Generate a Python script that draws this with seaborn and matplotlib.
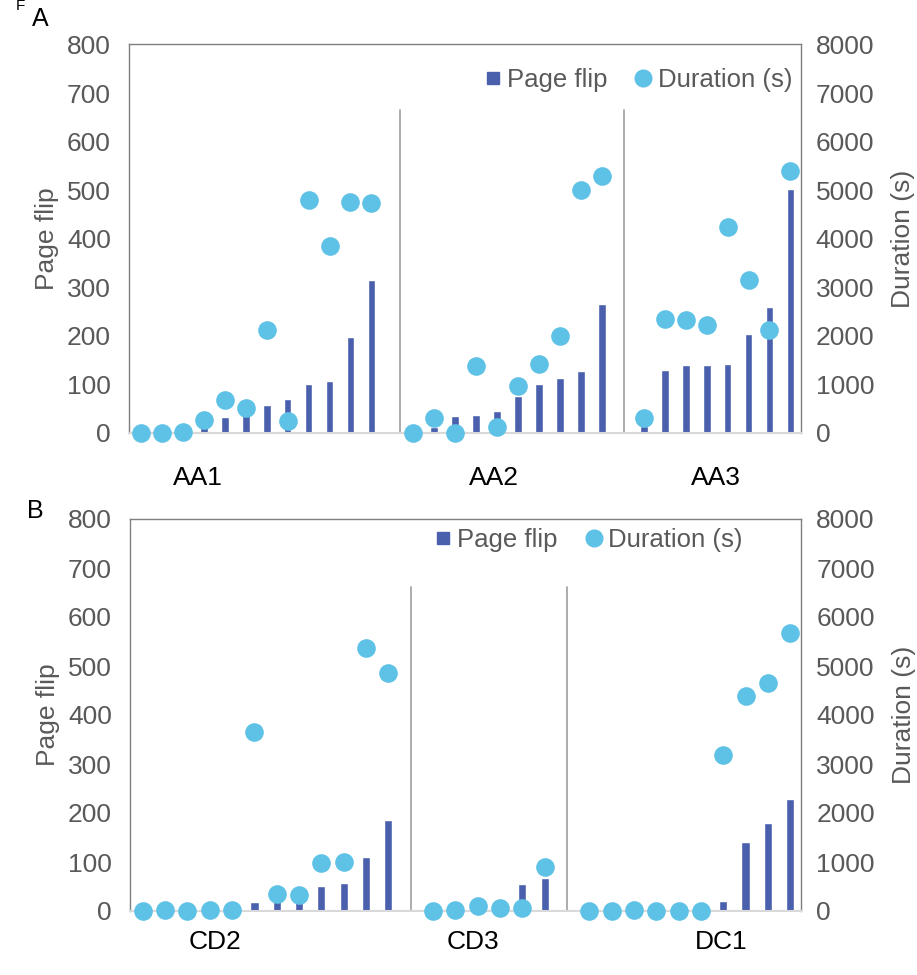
import numpy as np
import pandas as pd
import matplotlib
matplotlib.use("Agg")
import matplotlib.pyplot as plt
import matplotlib.transforms as mtransforms
from matplotlib.lines import Line2D
import seaborn as sns

# ---------------- data ----------------
# Panel A
aa_groups = ["AA1", "AA2", "AA3"]
aa1_flip = [0, 0, 0, 15, 32, 38, 58, 71, 101, 108, 197, 316]
aa1_dur = [0, 0, 30, 274, 685, 507, 2123, 247, 4795, 3849, 4760, 4740]
aa2_flip = [0, 12, 34, 38, 45, 77, 101, 113, 127, 265]
aa2_dur = [0, 315, 0, 1370, 116, 973, 1431, 2000, 5000, 5301]
aa3_flip = [15, 130, 140, 140, 143, 203, 259, 503]
aa3_dur = [315, 2356, 2322, 2226, 4240, 3150, 2123, 5404]

# Panel B
cd_groups = ["CD2", "CD3", "DC1"]
cd2_flip = [0, 0, 0, 0, 0, 18, 22, 18, 52, 58, 111, 186]
cd2_dur = [0, 30, 0, 30, 30, 3660, 347, 320, 973, 1007, 5374, 4850]
cd3_flip = [0, 0, 0, 24, 55, 68]
cd3_dur = [0, 30, 100, 60, 60, 905]
dc1_flip = [0, 0, 0, 0, 0, 0, 21, 140, 179, 229]
dc1_dur = [0, 0, 30, 0, 0, 0, 3177, 4395, 4646, 5680]

flip_ticks = [0, 100, 200, 300, 400, 500, 600, 700, 800]
dur_ticks = [0, 1000, 2000, 3000, 4000, 5000, 6000, 7000, 8000]

BAR_C = "#4A60AC"
DOT_C = "#5EC1E6"
GREY = "#595959"

plt.rcParams["font.family"] = ["Liberation Sans", "DejaVu Sans"]
sns.set_style("white")
plt.rcParams["font.family"] = ["Liberation Sans", "DejaVu Sans"]


def build_frame(groups, flips, durs):
    rows = []
    pos = 0
    seps = []
    spans = []
    for gi, (g, f, d) in enumerate(zip(groups, flips, durs)):
        start = pos
        for fv, dv in zip(f, d):
            rows.append({"group": g, "pos": pos, "flip": fv, "dur": dv})
            pos += 1
        spans.append((start, pos - 1))
        if gi < len(groups) - 1:
            seps.append(pos)
            pos += 1  # empty slot between groups
    return pd.DataFrame(rows), seps, spans, pos


def draw_panel(ax, groups, flips, durs, sep_pos, label_pos, label_y, legend_xy, sep_top):
    df, seps, spans, n = build_frame(groups, flips, durs)
    sns.barplot(data=df, x="pos", y="flip", native_scale=True, color=BAR_C,
                width=0.37, saturation=1, ax=ax, errorbar=None, zorder=2)
    ax.set_xlim(-0.57, n - 0.52)
    ax.set_ylim(0, 800)
    ax.set_yticks(flip_ticks)
    ax.set_xticks([])
    ax.set_xlabel("")
    ax.set_ylabel("Page flip", fontsize=19, color=GREY, labelpad=6)
    ax.tick_params(axis="y", length=0, pad=13, labelsize=19, labelcolor=GREY)
    for s in ["left", "right", "top"]:
        ax.spines[s].set_color("#7f7f7f")
        ax.spines[s].set_linewidth(1.0)
    ax.spines["bottom"].set_color("#d9d9d9")
    ax.spines["bottom"].set_linewidth(1.5)

    for sx in sep_pos:
        ax.axvline(sx, ymin=0, ymax=sep_top, color="#a6a6a6", lw=1.3, zorder=1)

    trans = mtransforms.blended_transform_factory(ax.transData, ax.transAxes)
    for g, lx in zip(groups, label_pos):
        ax.text(lx, label_y, g, transform=trans, ha="center", va="center",
                fontsize=19, color="black")

    ax2 = ax.twinx()
    sns.scatterplot(data=df, x="pos", y="dur", color=DOT_C, s=180, linewidth=0,
                    ax=ax2, clip_on=False, zorder=3, legend=False)
    ax2.set_ylim(0, 8000)
    ax2.set_yticks(dur_ticks)
    ax2.set_ylabel("Duration (s)", fontsize=19, color=GREY, labelpad=12)
    ax2.tick_params(axis="y", length=0, pad=11, labelsize=19, labelcolor=GREY)
    for s in ["left", "right", "top", "bottom"]:
        ax2.spines[s].set_visible(False)
    ax2.set_xlim(ax.get_xlim())

    handles = [
        Line2D([], [], marker="s", color=BAR_C, linestyle="none", markersize=9),
        Line2D([], [], marker="o", color=DOT_C, linestyle="none", markersize=12),
    ]
    ax2.legend(handles, ["Page flip", "Duration (s)"], loc="center",
               bbox_to_anchor=legend_xy, ncol=2, frameon=False, fontsize=18.5,
               handletextpad=0.05, columnspacing=0.9, labelcolor=GREY,
               handlelength=1.0)
    return ax, ax2


fig = plt.figure(figsize=(9.17, 9.75), dpi=100)
W, H = 917.0, 975.0

axA = fig.add_axes([129 / W, 1 - 433 / H, (800.5 - 129) / W, (433 - 44.5) / H])
draw_panel(axA, aa_groups, [aa1_flip, aa2_flip, aa3_flip], [aa1_dur, aa2_dur, aa3_dur],
           sep_pos=[12.35, 23.05], label_pos=[2.73, 16.84, 27.46], label_y=-0.116,
           legend_xy=(0.755, 0.909), sep_top=0.831)

axB = fig.add_axes([130 / W, 1 - 911 / H, (801 - 130) / W, (911 - 519) / H])
draw_panel(axB, cd_groups, [cd2_flip, cd3_flip, dc1_flip], [cd2_dur, cd3_dur, dc1_dur],
           sep_pos=[12.0, 19.0], label_pos=[3.24, 14.77, 25.9], label_y=-0.079,
           legend_xy=(0.68, 0.946), sep_top=0.827)

fig.text(40 / W, 1 - 19 / H, "A", fontsize=18, ha="center", va="center", color="black")
fig.text(35 / W, 1 - 511 / H, "B", fontsize=18, ha="center", va="center", color="black")
fig.text(20 / W, 1 - 6 / H, "F", fontsize=11, ha="center", va="center", color="black")

fig.savefig("out.png", dpi=100)
